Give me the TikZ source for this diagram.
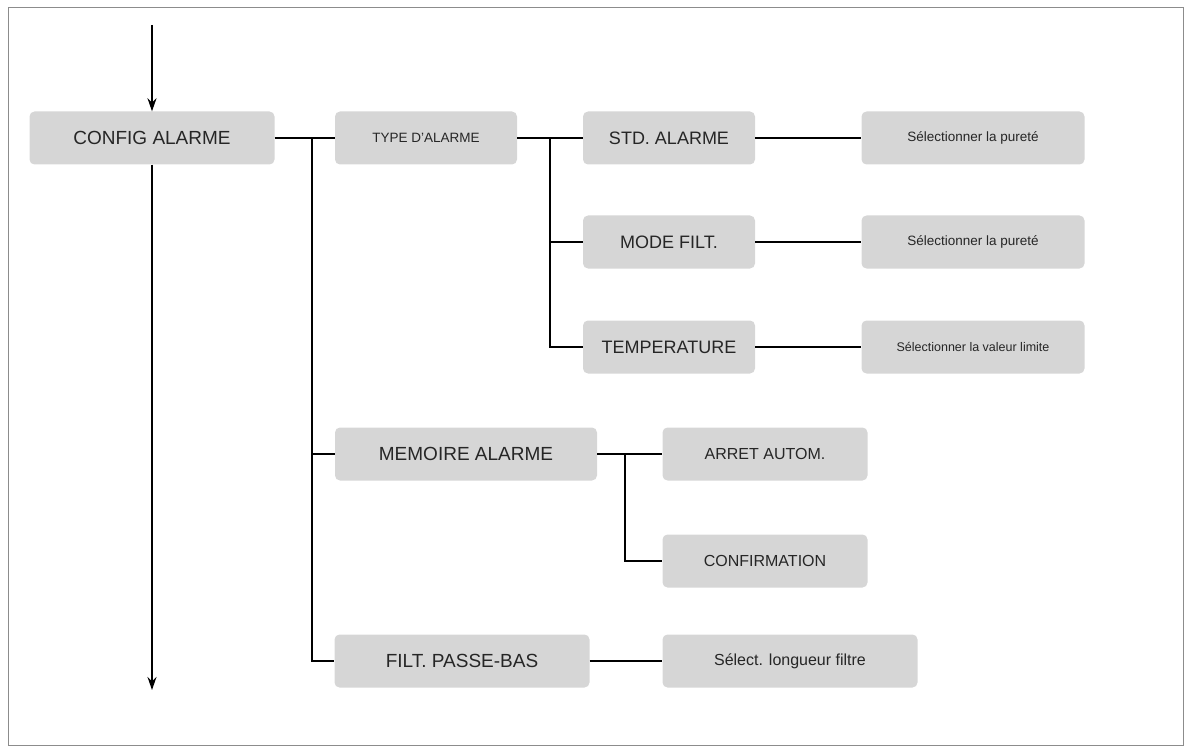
\documentclass[tikz,border=0pt]{standalone}
\usepackage{fontspec}
\setmainfont{Liberation Sans}
\usetikzlibrary{arrows.meta}
\begin{document}
\begin{tikzpicture}[x=1pt,y=-1pt,
  bx/.style={fill=black!16,rounded corners=5pt,minimum height=53pt,inner sep=0pt,text=black!85},
  ln/.style={line width=1.8pt},
  ar/.style={line width=1.4pt,-{Stealth[length=13pt,width=9pt]}}]
\useasboundingbox (0,0) rectangle (1193,751);
\draw[black!45,line width=1pt] (8,8) rectangle (1183,745);
\node[bx,minimum width=245pt,font=\fontsize{19}{22}\selectfont] (ca) at (152,138) {CONFIG ALARME};
\node[bx,minimum width=182pt,font=\fontsize{13.5}{16}\selectfont] (ty) at (426,138) {TYPE D'ALARME};
\node[bx,minimum width=172pt,font=\fontsize{18}{21}\selectfont] (std) at (669,138) {STD. ALARME};
\node[bx,minimum width=223pt,font=\fontsize{13.5}{16}\selectfont] (s1) at (973,138) {Sélectionner la pureté};
\node[bx,minimum width=172pt,font=\fontsize{18}{21}\selectfont] (mf) at (669,242) {MODE FILT.};
\node[bx,minimum width=223pt,font=\fontsize{13.5}{16}\selectfont] (s2) at (973,242) {Sélectionner la pureté};
\node[bx,minimum width=172pt,font=\fontsize{18}{21}\selectfont] (tp) at (669,347) {TEMPERATURE};
\node[bx,minimum width=223pt,font=\fontsize{12.5}{15}\selectfont] (s3) at (973,347) {Sélectionner la valeur limite};
\node[bx,minimum width=262pt,font=\fontsize{19}{22}\selectfont] (me) at (466,454) {MEMOIRE ALARME};
\node[bx,minimum width=205pt,font=\fontsize{16}{19}\selectfont] (aa) at (765,454) {ARRET AUTOM.};
\node[bx,minimum width=205pt,font=\fontsize{16}{19}\selectfont] (cf) at (765,561) {CONFIRMATION};
\node[bx,minimum width=255pt,font=\fontsize{19}{22}\selectfont] (fp) at (462,661) {FILT. PASSE-BAS};
\node[bx,minimum width=255pt,font=\fontsize{16}{19}\selectfont] (sl) at (790,661) {Sélect. longueur filtre};
\coordinate (top) at (152,25);
\coordinate (bot) at (152,690);
\draw[ar] (top) -- (ca.north);
\draw[ar] (ca.south) -- (bot);
\draw[ln] (ca.east) -- (ty.west);
\draw[ln] (ca.east -| 312,0) |- (me.west);
\draw[ln] (ca.east -| 312,0) |- (fp.west);
\draw[ln] (ty.east) -- (std.west);
\draw[ln] (ty.east -| 550,0) |- (mf.west);
\draw[ln] (ty.east -| 550,0) |- (tp.west);
\draw[ln] (std.east) -- (s1.west);
\draw[ln] (mf.east) -- (s2.west);
\draw[ln] (tp.east) -- (s3.west);
\draw[ln] (me.east) -- (aa.west);
\draw[ln] (me.east -| 625,0) |- (cf.west);
\draw[ln] (fp.east) -- (sl.west);
\end{tikzpicture}
\end{document}
